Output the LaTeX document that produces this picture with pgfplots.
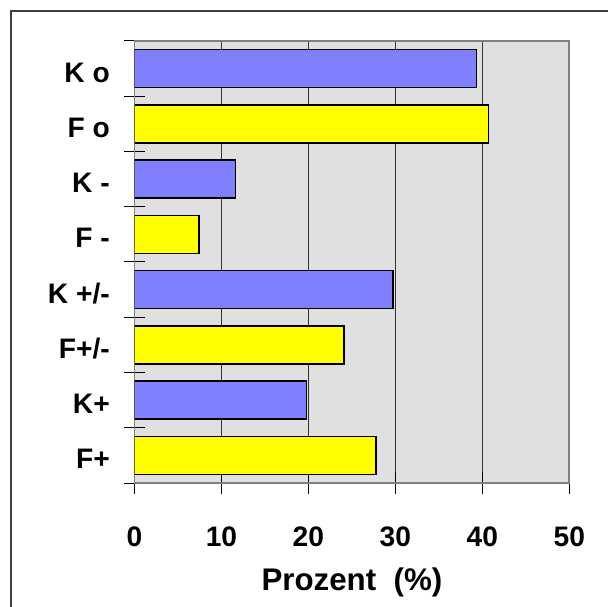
\documentclass[border=0pt]{standalone}
\usepackage{pgfplots}
\pgfplotsset{compat=1.18}
\usepackage{fontspec}
\setmainfont{Liberation Sans}
\definecolor{barblue}{HTML}{8080FF}
\definecolor{baryellow}{HTML}{FFFF00}
\definecolor{plotbg}{HTML}{E0E0E0}
\begin{document}
\begin{tikzpicture}
\path[use as bounding box] (0,0) rectangle (608bp,607bp);
\draw[line width=1.6bp, color=black!75] (11bp,0) -- (11bp,596bp) -- (608bp,596bp);
\begin{axis}[
    at={(134.5bp,124bp)}, anchor=south west,
    scale only axis, width=434.8bp, height=442bp,
    xbar, bar width=38bp,
    xmin=0, xmax=50, ymin=-0.5, ymax=7.5,
    axis background/.style={fill=plotbg},
    axis line style={draw=black!50, line width=1.8bp},
    xtick={0,10,...,50},
    ytick={-0.5,0.5,...,7.5},
    yticklabels={F+, K+, F+/-, K +/-, F -, K -, F o, K o, {}},
    xtick pos=bottom, ytick pos=left,
    xmajorgrids, grid style={black!80, line width=1.1bp},
    tick align=center, major tick length=21bp,
    tick style={black, line width=1bp},
    /pgf/number format/assume math mode=true,
    every tick label/.append style={font=\fontsize{28.3}{32}\selectfont\bfseries},
    xticklabel style={anchor=base, yshift=-53bp},
    yticklabel style={anchor=base east, inner sep=0pt, xshift=-14bp, yshift=14.1bp},
    xlabel={Prozent\ \ (\%)},
    xlabel style={at={(axis description cs:0.5,0)}, anchor=base, yshift=-107bp,
      font=\fontsize{31.4}{36}\selectfont\bfseries},
]
\addplot[fill=barblue, draw=black, line width=1.5bp, bar shift=0pt]
  coordinates {(39.3,7) (11.6,5) (29.7,3) (19.8,1)};
\addplot[fill=baryellow, draw=black, line width=1.5bp, bar shift=0pt]
  coordinates {(40.7,6) (7.4,4) (24.1,2) (27.8,0)};
\end{axis}
\end{tikzpicture}
\end{document}
